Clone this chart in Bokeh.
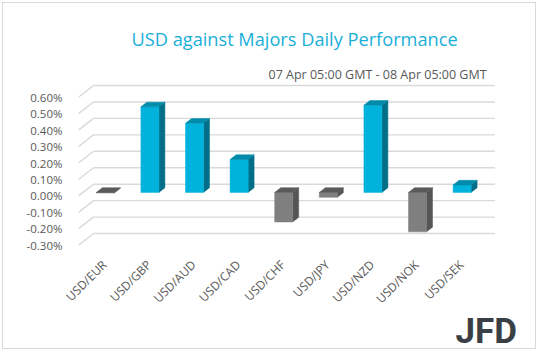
from bokeh.plotting import figure
from bokeh.models import FixedTicker, PrintfTickFormatter, Title
from bokeh.embed import file_html
from bokeh.resources import INLINE

# ---------------- data ----------------
pairs = ["USD/EUR", "USD/GBP", "USD/AUD", "USD/CAD", "USD/CHF",
         "USD/JPY", "USD/NZD", "USD/NOK", "USD/SEK"]
changes = [-0.004, 0.52, 0.42, 0.20, -0.18, -0.03, 0.53, -0.24, 0.045]
y_ticks = [-0.3, -0.2, -0.1, 0.0, 0.1, 0.2, 0.3, 0.4, 0.5, 0.6]
title_text = "USD against Majors Daily Performance"
period_text = "07 Apr 05:00 GMT -  08 Apr  05:00 GMT"
logo_text = "JFD"

# ---------------- geometry (pseudo 3-D) ----------------
PX_X = 44.6          # px per category
PX_Y = 164.5         # px per 1 %
XL = -0.58           # front-plane left edge relative to label anchor
DX = 15 / PX_X       # wall depth in x units
DY = 11.7 / PX_Y     # wall depth in y units
Z0, ZD = 0.3, 0.4    # bar depth start / thickness (fraction of wall depth)
BW = 18 / PX_X       # bar width

F_LEFT, F_RIGHT, F_TOP, F_BOTTOM = 78, 497, 83, 247
W, H = 538, 351

x_start = XL
x_end = XL + (F_RIGHT - F_LEFT) / PX_X
y_end = 0.6 + (96.7 - F_TOP) / PX_Y
y_start = 0.6 - (F_BOTTOM - 96.7) / PX_Y

p = figure(width=W, height=H, x_range=(x_start, x_end), y_range=(y_start, y_end),
           output_backend="svg", toolbar_location=None,
           min_border_left=F_LEFT, min_border_right=W - F_RIGHT,
           min_border_top=F_TOP, min_border_bottom=H - F_BOTTOM)
p.outline_line_color = None
p.background_fill_color = "white"
p.border_fill_color = None
p.xgrid.visible = False
p.ygrid.visible = False
p.styles = {"outline": "1.5px solid #D9D9D9", "outline-offset": "-3px",
            "background-color": "white"}

GRID = "#D9D9D9"
n = len(pairs)
# back wall gridlines
p.segment(x0=[XL + DX] * len(y_ticks), y0=[t + DY for t in y_ticks],
          x1=[XL + n + DX] * len(y_ticks), y1=[t + DY for t in y_ticks],
          line_color=GRID, line_width=1.4)
# side wall gridlines
p.segment(x0=[XL] * len(y_ticks), y0=y_ticks,
          x1=[XL + DX] * len(y_ticks), y1=[t + DY for t in y_ticks],
          line_color=GRID, line_width=1.4)

# bars
POS = ("#00B2DC", "#008BAA", "#006F87")   # front, top, side
NEG = ("#7F7F7F", "#5A5A5A", "#555555")
fl, fr, fb, ft, fc = [], [], [], [], []
tx, ty, tc, sx, sy, sc = [], [], [], [], [], []
ox, oy = Z0 * DX, Z0 * DY
dx, dy = ZD * DX, ZD * DY
for i, v in enumerate(changes):
    cols = POS if v >= 0 else NEG
    cx = i + XL + 0.5 + ox
    l, r = cx - BW / 2, cx + BW / 2
    b, t = min(0, v) + oy, max(0, v) + oy
    fl.append(l); fr.append(r); fb.append(b); ft.append(t); fc.append(cols[0])
    tx.append([l, r, r + dx, l + dx]); ty.append([t, t, t + dy, t + dy]); tc.append(cols[1])
    sx.append([r, r + dx, r + dx, r]); sy.append([b, b + dy, t + dy, t]); sc.append(cols[2])

p.patches(xs=sx, ys=sy, fill_color=sc, line_color=sc, line_width=0.5)
p.quad(left=fl, right=fr, bottom=fb, top=ft, fill_color=fc, line_color=fc, line_width=0.5)
p.patches(xs=tx, ys=ty, fill_color=tc, line_color=tc, line_width=0.5)

# axes
AX_COL = "#595959"
p.yaxis.ticker = FixedTicker(ticks=y_ticks)
p.yaxis.formatter = PrintfTickFormatter(format="%.2f%%")
p.yaxis.axis_line_color = None
p.yaxis.major_tick_line_color = None
p.yaxis.minor_tick_line_color = None
p.yaxis.major_label_standoff = 10
p.yaxis.major_label_text_font = "Open Sans"
p.yaxis.major_label_text_font_size = "11.5px"
p.yaxis.major_label_text_color = AX_COL

p.xaxis.ticker = FixedTicker(ticks=list(range(n)))
p.xaxis.major_label_overrides = {i: lab for i, lab in enumerate(pairs)}
p.xaxis.major_label_orientation = 0.785398
p.xaxis.axis_line_color = None
p.xaxis.major_tick_line_color = None
p.xaxis.minor_tick_line_color = None
p.xaxis.major_label_standoff = 9
p.xaxis.major_label_text_font = "Open Sans"
p.xaxis.major_label_text_font_size = "12px"
p.xaxis.major_label_text_color = AX_COL

# titles (later 'above' entries are placed further from the frame)
p.title.visible = False
p.add_layout(Title(text=period_text, align="left", offset=190, standoff=2,
                   text_font="Open Sans", text_font_style="normal",
                   text_font_size="12.5px", text_color=AX_COL), "above")
p.add_layout(Title(text=title_text, align="left", offset=53, standoff=23,
                   text_font="Open Sans", text_font_style="normal",
                   text_font_size="18.2px", text_color="#1AAFD9"), "above")
# logo
p.add_layout(Title(text=logo_text, align="left", offset=377, standoff=-13,
                   text_font="Roboto", text_font_style="bold",
                   text_font_size="35px", text_color="#3A3F46"), "below")

open("out.html", "w").write(file_html(p, INLINE))
